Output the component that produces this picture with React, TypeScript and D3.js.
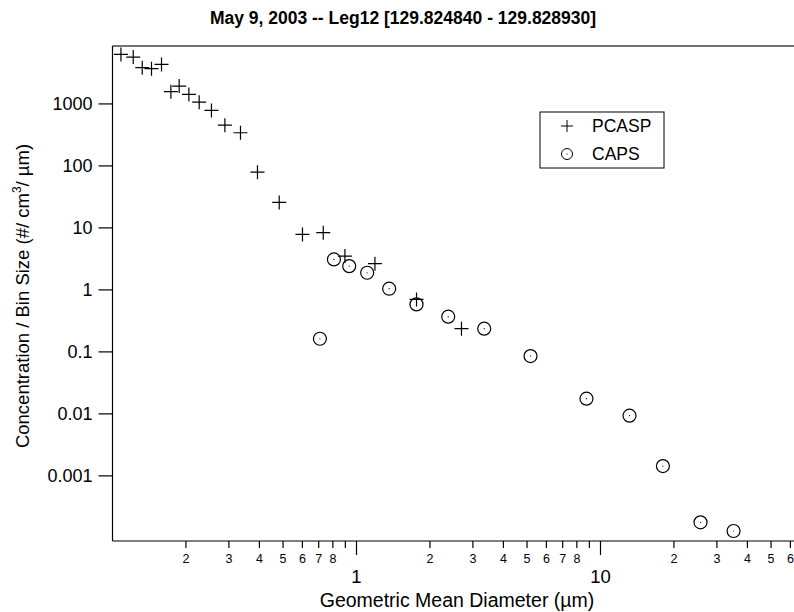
import React from "react";
import { scaleLog } from "d3";

// PCASP bins: geometric mean diameter (µm) and concentration / bin size
const pcaspDiam = [
  0.1083, 0.1216, 0.1324, 0.1445, 0.1588, 0.1735, 0.1876, 0.2056, 0.2266, 0.2544,
  0.2888, 0.3346, 0.3928, 0.4822, 0.6006, 0.7306, 0.8965, 1.19, 1.762, 2.693,
];
const pcaspConc = [
  6290, 5690, 3840, 3700, 4340, 1574, 1938, 1422, 1069, 785,
  455, 343, 79.4, 25.8, 7.86, 8.37, 3.51, 2.65, 0.703, 0.237,
];

// CAPS bins
const capsDiam = [
  0.708, 0.808, 0.9335, 1.106, 1.361, 1.762, 2.376, 3.337, 5.167, 8.76,
  13.15, 18.02, 25.7, 35.1,
];
const capsConc = [
  0.163, 3.1, 2.42, 1.89, 1.045, 0.584, 0.37, 0.237, 0.0856, 0.0176,
  0.00935, 0.00144, 0.000178, 0.000129,
];

const yTickValues = [1000, 100, 10, 1, 0.1, 0.01, 0.001];
const yTickLabels = ["1000", "100", "10", "1", "0.1", "0.01", "0.001"];
const xMajorValues = [1, 10];
const xMajorLabels = ["1", "10"];

const title = "May 9, 2003 -- Leg12 [129.824840 - 129.828930]";
const legendNames = ["PCASP", "CAPS"];

const width = 794;
const height = 612;
const font = "'Liberation Sans', Arial, Helvetica, sans-serif";

const left = 112.5;
const top = 46;
const bottom = 541;

export default function App() {
  const xScale = scaleLog().domain([0.1, 100]).range([left, left + 3 * 244]);
  const yScale = scaleLog().domain([8.9e-5, 8600]).range([bottom, top]);

  // minor ticks 2..9 in each decade
  const minor: number[] = [];
  [0.1, 1, 10].forEach((d) => {
    for (let k = 2; k <= 9; k++) minor.push(d * k);
  });
  const digit = (v: number) =>
    Math.round(v / Math.pow(10, Math.floor(Math.log10(v) + 1e-9)));

  const cross = 7;
  const r = 6.5;

  return (
    <svg
      width={width}
      height={height}
      style={{ position: "absolute", left: 0, top: 0, background: "#fff" }}
      fontFamily={font}
    >
      <rect width={width} height={height} fill="#fff" />
      <text x={403} y={24} textAnchor="middle" fontSize={17.5} fontWeight="bold">
        {title}
      </text>

      {/* frame */}
      <line x1={left} x2={width + 10} y1={top} y2={top} stroke="#444" strokeWidth={1.5} />
      <line x1={left} x2={left} y1={top} y2={bottom} stroke="#000" strokeWidth={1.2} />
      <line x1={left} x2={width + 10} y1={bottom} y2={bottom} stroke="#000" strokeWidth={1.2} />

      {/* y axis */}
      {yTickValues.map((v, i) => (
        <g key={v}>
          <line x1={left - 14} x2={left} y1={yScale(v)} y2={yScale(v)} stroke="#000" strokeWidth={1.2} />
          <text x={left - 20} y={yScale(v)} dy="0.35em" textAnchor="end" fontSize={18}>
            {yTickLabels[i]}
          </text>
        </g>
      ))}
      <text
        transform={`translate(29,${296}) rotate(-90)`}
        textAnchor="middle"
        fontSize={18.5}
      >
        Concentration / Bin Size (#/ cm
        <tspan dy={-8} fontSize={12}>3</tspan>
        <tspan dy={8}>/ µm)</tspan>
      </text>

      {/* x axis */}
      {minor.map((v) => (
        <g key={v}>
          <line x1={xScale(v)} x2={xScale(v)} y1={bottom} y2={bottom + 7} stroke="#000" strokeWidth={1.2} />
          {digit(v) !== 9 && (
            <text x={xScale(v)} y={563} textAnchor="middle" fontSize={12.5}>
              {digit(v)}
            </text>
          )}
        </g>
      ))}
      {xMajorValues.map((v, i) => (
        <g key={v}>
          <line x1={xScale(v)} x2={xScale(v)} y1={bottom} y2={bottom + 14} stroke="#000" strokeWidth={1.2} />
          <text x={xScale(v)} y={583} textAnchor="middle" fontSize={18.5}>
            {xMajorLabels[i]}
          </text>
        </g>
      ))}
      <text x={457} y={607} textAnchor="middle" fontSize={19.5}>
        Geometric Mean Diameter (µm)
      </text>

      {/* PCASP */}
      {pcaspDiam.map((d, i) => {
        const cx = xScale(d);
        const cy = yScale(pcaspConc[i]);
        return (
          <path
            key={"p" + i}
            d={`M${cx - cross},${cy}H${cx + cross}M${cx},${cy - cross}V${cy + cross}`}
            stroke="#000"
            strokeWidth={1.2}
            fill="none"
          />
        );
      })}

      {/* CAPS */}
      {capsDiam.map((d, i) => {
        const cx = xScale(d);
        const cy = yScale(capsConc[i]);
        return (
          <g key={"c" + i}>
            <circle cx={cx} cy={cy} r={r} fill="none" stroke="#000" strokeWidth={1.2} />
            <circle cx={cx} cy={cy} r={0.6} fill="#000" />
          </g>
        );
      })}

      {/* legend */}
      <rect x={540} y={112} width={124} height={56} fill="#fff" stroke="#000" strokeWidth={1} />
      <path d={`M${567 - 6},126H${567 + 6}M567,120V132`} stroke="#000" strokeWidth={1} />
      <text x={592} y={132} fontSize={17.5}>
        {legendNames[0]}
      </text>
      <circle cx={567} cy={154} r={5.5} fill="none" stroke="#000" strokeWidth={1} />
      <circle cx={567} cy={154} r={0.6} fill="#000" />
      <text x={592} y={160} fontSize={17.5}>
        {legendNames[1]}
      </text>
    </svg>
  );
}
